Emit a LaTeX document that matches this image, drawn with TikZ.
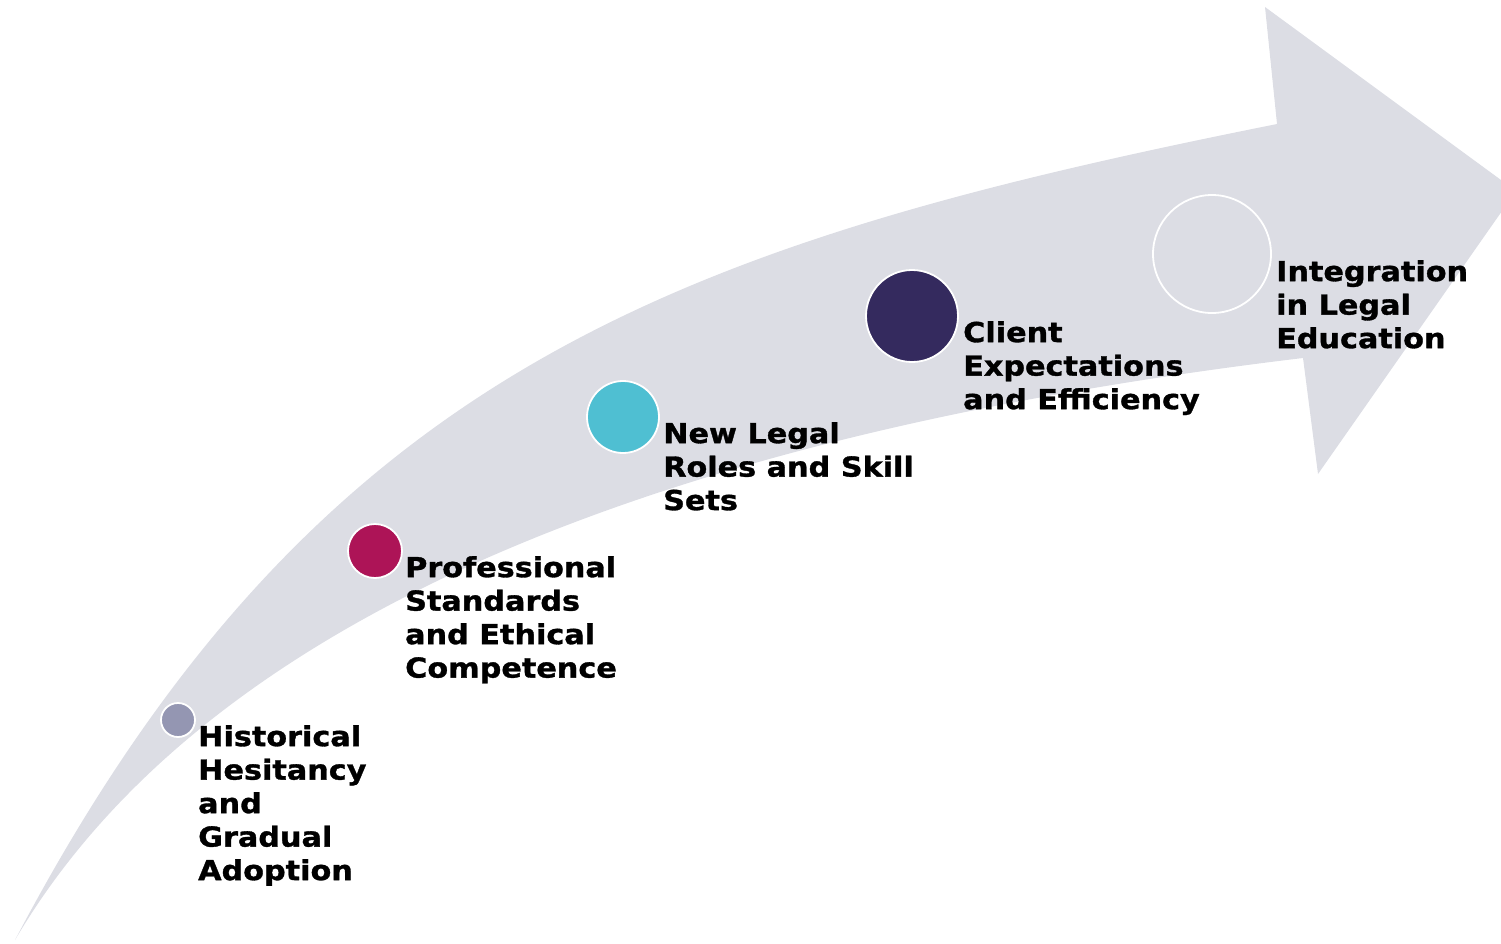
\documentclass[tikz,border=0pt]{standalone}
\usepackage{fontspec}
\newfontfamily\labelfont{DejaVu Sans}[FakeStretch=1.1,BoldFeatures={FakeStretch=1.1,FakeBold=1.2}]
\definecolor{bandgray}{RGB}{220,221,228}
\definecolor{cA}{RGB}{148,150,178}
\definecolor{cB}{RGB}{173,20,87}
\definecolor{cC}{RGB}{79,191,210}
\definecolor{cD}{RGB}{52,42,94}
\tikzset{
  dot/.style={circle, draw=white, line width=1.8pt, inner sep=0pt},
  lbl/.style={anchor=north west, inner sep=0pt, align=left,
    font=\labelfont\bfseries\fontsize{27.5}{33.5}\selectfont, text=black}
}
\begin{document}
\begin{tikzpicture}[x=1pt,y=-1pt]
\useasboundingbox (0,0) rectangle (1501,943);
\clip (0,0) rectangle (1501,943);
\fill[bandgray] (15,940) .. controls (315,370) and (677,244) .. (1277,124)
  -- (1265,7) -- (1516,191) -- (1318,474) -- (1303,358)
  .. controls (703,430) and (215,600) .. (15,940) -- cycle;
\node[dot, fill=cA, minimum size=34pt] (d1) at (178,720) {};
\node[dot, fill=cB, minimum size=54pt] (d2) at (375,551) {};
\node[dot, fill=cC, minimum size=72pt] (d3) at (623,417) {};
\node[dot, fill=cD, minimum size=92pt] (d4) at (912,316) {};
\node[dot, fill=bandgray, minimum size=118pt] (d5) at (1212,254) {};
\node[lbl] (t1) at (198,725) {Historical\\Hesitancy\\and\\Gradual\\Adoption};
\node[lbl] (t2) at (405,556) {Professional\\Standards\\and Ethical\\Competence};
\node[lbl] (t3) at (663,422) {New Legal\\Roles and Skill\\Sets};
\node[lbl] (t4) at (963,321) {Client\\Expectations\\and Efficiency};
\node[lbl] (t5) at (1276,260) {Integration\\in Legal\\Education};
\end{tikzpicture}
\end{document}
